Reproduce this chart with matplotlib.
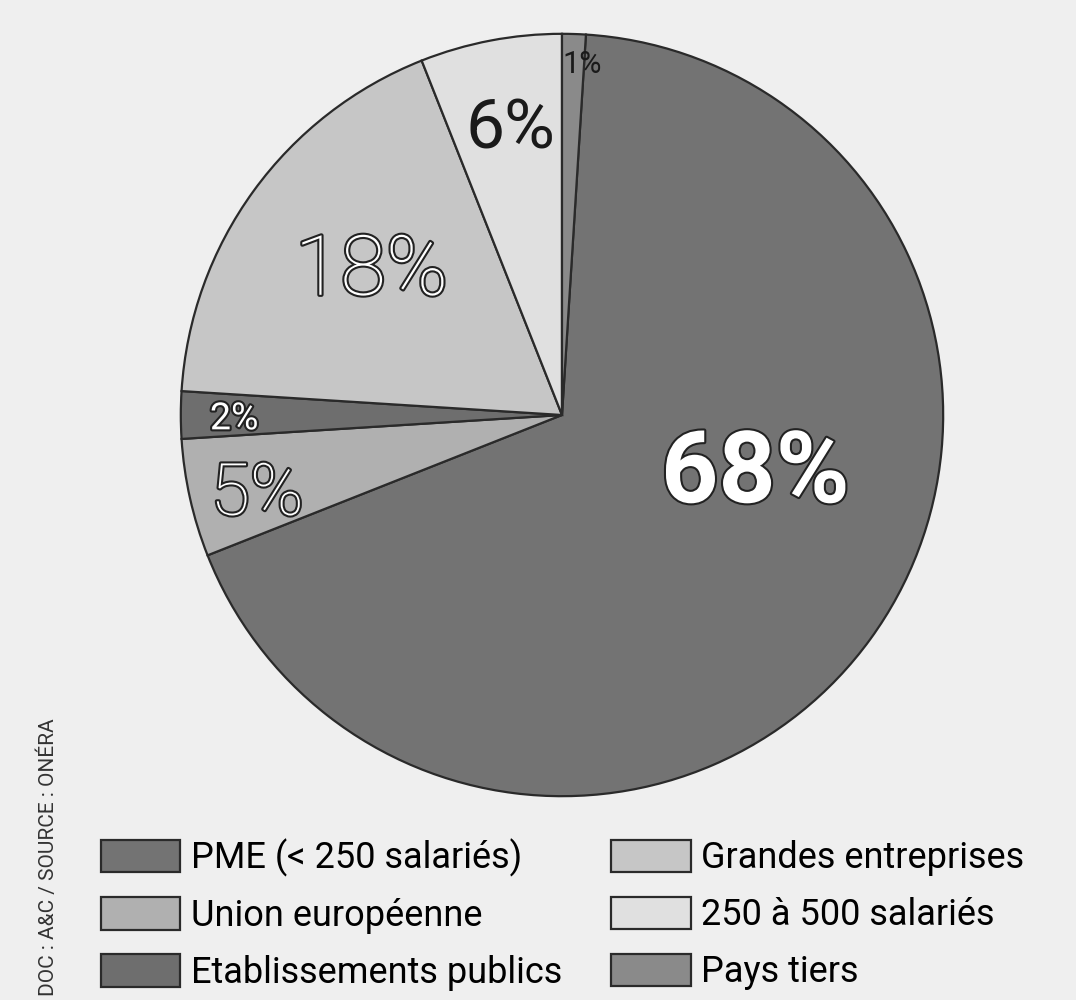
import matplotlib.pyplot as plt
import matplotlib.patheffects as pe

# Data (legend order)
labels = ['PME (< 250 salariés)', 'Union européenne', 'Etablissements publics',
          'Grandes entreprises', '250 à 500 salariés', 'Pays tiers']
values = [68, 5, 2, 18, 6, 1]
colors = ['#737373', '#b0b0b0', '#6e6e6e', '#c6c6c6', '#e0e0e0', '#8a8a8a']

# label placement per slice (axes data units), size, weight, white text?
label_pos = [(0.507, -0.157), (-0.80, -0.21), (-0.86, -0.01), (-0.50, 0.375), (-0.136, 0.748), (0.052, 0.92)]
label_size = [72, 52, 27, 60, 50, 22]
label_weight = ['bold', 'light', 'normal', 'light', 'normal', 'normal']
label_white = [True, True, True, True, False, False]

plt.rcParams['font.family'] = ['Roboto', 'DejaVu Sans']

bg = '#efefef'
fig = plt.figure(figsize=(10.76, 10.0), dpi=100, facecolor=bg)
ax = fig.add_axes([0.1645, 0.2, 0.7156, 0.77])
ax.set_facecolor(bg)

start = 90 - 360 * values[-1] / sum(values)
wedges, _ = ax.pie(values, colors=colors, startangle=start, counterclock=False,
                   radius=1.0, wedgeprops=dict(edgecolor='#2a2a2a', linewidth=1.6))
ax.set_xlim(-1.01, 1.01)
ax.set_ylim(-1.01, 1.01)
ax.set_aspect('equal')
ax.axis('off')

for v, (x, y), s, w, white in zip(values, label_pos, label_size, label_weight, label_white):
    if white:
        t = ax.text(x, y, f'{v}%', ha='center', va='center', fontsize=s, fontweight=w,
                    color='white')
        t.set_path_effects([pe.withStroke(linewidth=3, foreground='#222222')])
    else:
        ax.text(x, y, f'{v}%', ha='center', va='center', fontsize=s, fontweight=w,
                color='#1a1a1a')

leg = fig.legend(wedges, labels, ncol=2, loc='lower left', bbox_to_anchor=(0.077, -0.009),
                 frameon=False, fontsize=26, handlelength=2.2, handleheight=1.0,
                 handletextpad=0.3, labelspacing=0.57, columnspacing=1.35, borderpad=0)
for h in leg.legend_handles:
    h.set_linewidth(1.6)

fig.text(0.045, 0.004, 'DOC : A&C / SOURCE : ONÉRA', rotation=90, ha='center', va='bottom',
         fontsize=15, color='#333333')

fig.savefig('out.png', dpi=100, facecolor=bg)
